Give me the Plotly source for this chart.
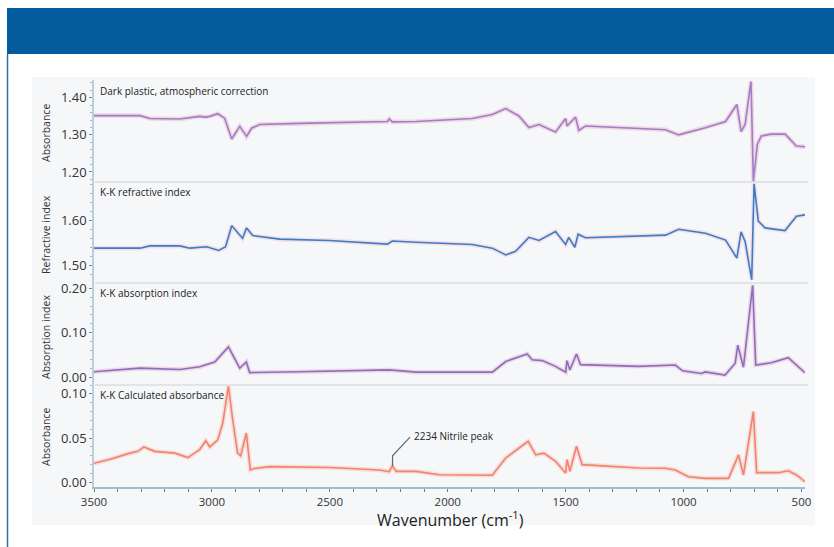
import plotly.graph_objects as go

# ---------------- data ----------------
wn_abs = [3500, 3305, 3263, 3136, 3052, 3026, 3009, 2975, 2946, 2916, 2882, 2853, 2832, 2798,
          2629, 2417, 2256, 2248, 2235, 2134, 2036, 1897, 1811, 1754, 1698, 1656, 1613, 1543,
          1500, 1494, 1458, 1444, 1416, 1190, 1076, 1021, 907, 822, 774, 756, 739, 714, 704,
          687, 670, 628, 569, 522, 484]
abs_vals = [1.352, 1.352, 1.344, 1.343, 1.350, 1.348, 1.350, 1.357, 1.345, 1.289, 1.323, 1.296,
            1.318, 1.328, 1.331, 1.333, 1.336, 1.343, 1.335, 1.336, 1.339, 1.344, 1.355, 1.371,
            1.351, 1.320, 1.328, 1.308, 1.344, 1.324, 1.348, 1.312, 1.324, 1.318, 1.314, 1.300,
            1.319, 1.336, 1.382, 1.309, 1.328, 1.444, 1.175, 1.275, 1.297, 1.302, 1.302, 1.270,
            1.268]

wn_ri = [3500, 3305, 3263, 3136, 3094, 3022, 2971, 2942, 2916, 2870, 2853, 2827, 2713, 2502,
         2256, 2235, 2134, 2036, 1897, 1811, 1754, 1712, 1656, 1613, 1543, 1500, 1487, 1461,
         1447, 1416, 1190, 1076, 1021, 907, 822, 774, 756, 739, 711, 701, 683, 655, 570, 521, 484]
ri_vals = [1.539, 1.539, 1.544, 1.544, 1.539, 1.542, 1.534, 1.542, 1.589, 1.561, 1.584, 1.567,
           1.559, 1.556, 1.548, 1.555, 1.552, 1.550, 1.547, 1.539, 1.524, 1.532, 1.563, 1.556,
           1.576, 1.547, 1.563, 1.541, 1.570, 1.562, 1.565, 1.568, 1.581, 1.572, 1.557, 1.517,
           1.575, 1.554, 1.469, 1.682, 1.599, 1.584, 1.578, 1.610, 1.613]

wn_ai = [3500, 3305, 3136, 3052, 3022, 2988, 2930, 2882, 2854, 2840, 2629, 2248, 2134, 1811,
         1754, 1663, 1642, 1599, 1543, 1500, 1494, 1482, 1454, 1437, 1190, 1035, 1004, 924,
         908, 824, 781, 770, 746, 707, 694, 628, 556, 528, 485]
ai_vals = [0.012, 0.020, 0.017, 0.023, 0.028, 0.034, 0.068, 0.020, 0.034, 0.010, 0.012, 0.016,
           0.011, 0.011, 0.035, 0.052, 0.039, 0.037, 0.024, 0.011, 0.037, 0.016, 0.052, 0.028,
           0.024, 0.027, 0.014, 0.008, 0.0115, 0.0045, 0.031, 0.072, 0.022, 0.207, 0.027, 0.032,
           0.0435, 0.031, 0.0097]

wn_ca = [3500, 3432, 3348, 3314, 3288, 3242, 3157, 3102, 3052, 3026, 3009, 2975, 2954, 2930,
         2912, 2891, 2878, 2854, 2837, 2819, 2756, 2502, 2290, 2248, 2235, 2218, 2134, 2036,
         1811, 1754, 1659, 1627, 1592, 1543, 1500, 1494, 1482, 1454, 1430, 1190, 1078, 1035,
         979, 908, 809, 767, 746, 704, 690, 598, 556, 521, 485]
ca_vals = [0.0216, 0.026, 0.033, 0.035, 0.040, 0.035, 0.033, 0.028, 0.037, 0.047, 0.040, 0.048,
           0.067, 0.1086, 0.071, 0.033, 0.030, 0.0557, 0.014, 0.0157, 0.0177, 0.0168, 0.014,
           0.012, 0.0185, 0.0124, 0.0124, 0.0086, 0.0079, 0.0275, 0.0464, 0.031, 0.033, 0.0238,
           0.0105, 0.0256, 0.0125, 0.0408, 0.020, 0.0162, 0.0159, 0.0139, 0.0063, 0.0045, 0.0045,
           0.031, 0.0083, 0.080, 0.0109, 0.0109, 0.0131, 0.0083, 0.0007]

panel_labels = ["Dark plastic, atmospheric correction", "K-K refractive index",
                "K-K absorption index", "K-K Calculated absorbance"]
y_titles = ["Absorbance", "Refractive index", "Absorption index", "Absorbance"]
x_tick_vals = [3500, 3000, 2500, 2000, 1500, 1000, 500]

nitrile_x = [2234, 2234, 2160]
nitrile_y = [0.0185, 0.030, 0.051]
nitrile_text = "2234 Nitrile peak"

# ---------------- figure ----------------
W, H = 834, 547
def px(x): return x / W
def py(y): return 1 - y / H

fig = go.Figure()

series = [
    (wn_abs, abs_vals, "#9d80c6", "rgba(232,150,185,0.35)"),
    (wn_ri, ri_vals, "#3c7cc6", "rgba(232,150,185,0.25)"),
    (wn_ai, ai_vals, "#8670c2", "rgba(232,150,185,0.35)"),
    (wn_ca, ca_vals, "#f2846c", "rgba(245,170,160,0.35)"),
]
for i, (xs, ys, col, halo) in enumerate(series):
    ax = "" if i == 0 else str(i + 1)
    fig.add_trace(go.Scatter(x=xs, y=ys, mode="lines", line=dict(color=halo, width=4.5),
                             xaxis="x" + ax, yaxis="y" + ax, hoverinfo="skip", showlegend=False))
    fig.add_trace(go.Scatter(x=xs, y=ys, mode="lines", line=dict(color=col, width=1.6),
                             xaxis="x" + ax, yaxis="y" + ax, showlegend=False))

# nitrile leader line
fig.add_trace(go.Scatter(x=nitrile_x, y=nitrile_y, mode="lines",
                         line=dict(color="#4f6f7a", width=1.2), xaxis="x4", yaxis="y4",
                         showlegend=False, hoverinfo="skip"))

xdom = [px(94), px(805)]
ydoms = [[py(182), py(80)], [py(283), py(182)], [py(385), py(283)], [py(487), py(385)]]
yranges = [[1.173, 1.448], [1.4616, 1.686], [-0.018, 0.212], [-0.0053, 0.110]]
ytick_vals = [[1.20, 1.30, 1.40], [1.50, 1.60], [0.00, 0.10, 0.20], [0.00, 0.05, 0.10]]
ytick_text = [["1.20", "1.30", "1.40"], ["1.50", "1.60"], ["0.00", "0.10", "0.20"],
              ["0.00", "0.05", "0.10"]]
minor_dt = [0.02, 0.02, 0.02, 0.01]

layout = dict(
    width=W, height=H, autosize=False, margin=dict(l=0, r=0, t=0, b=0, pad=0),
    paper_bgcolor="white", plot_bgcolor="rgba(0,0,0,0)",
    font=dict(family="Open Sans, sans-serif", color="#333333"),
    showlegend=False,
)
for i in range(4):
    k = "" if i == 0 else str(i + 1)
    last = i == 3
    layout["xaxis" + k] = dict(
        domain=xdom, range=[3500, 485], anchor="y" + k, automargin=False,
        showgrid=False, zeroline=False,
        showline=last, linecolor="#9fbfcc", linewidth=2,
        ticks="outside" if last else "", ticklen=3, tickcolor="#5f7f8c",
        tickvals=x_tick_vals if last else None, showticklabels=last,
        tickfont=dict(size=11.5, color="#333333"),
        minor=dict(ticks="outside", dtick=100, ticklen=3, tickcolor="#5f7f8c") if last else None,
    )
    if not last:
        layout["xaxis" + k]["matches"] = "x4"
    layout["yaxis" + k] = dict(
        domain=ydoms[i], range=yranges[i], anchor="x" + k, automargin=False,
        showgrid=False, zeroline=False,
        showline=True, linecolor="#bcd0dc", linewidth=1.5,
        ticks="outside", ticklen=3, tickcolor="#6f8c99",
        tickvals=ytick_vals[i], ticktext=ytick_text[i],
        tickfont=dict(size=13, color="#333333"),
        minor=dict(ticks="outside", dtick=minor_dt[i], ticklen=2, tickcolor="#9fb7c3"),
    )
fig.update_layout(**layout)

shapes = [
    # blue header
    dict(type="rect", xref="paper", yref="paper", x0=px(7), x1=1, y0=py(54), y1=py(8),
         fillcolor="#045c9f", line=dict(width=0), layer="below"),
    # left border line
    dict(type="line", xref="paper", yref="paper", x0=px(7.5), x1=px(7.5), y0=0, y1=py(54),
         line=dict(color="#2f6fae", width=1.5), layer="below"),
    # light panel
    dict(type="rect", xref="paper", yref="paper", x0=px(32), x1=px(815), y0=py(525), y1=py(77),
         fillcolor="#f6f7f9", line=dict(width=0), layer="below"),
]
for sep in [182, 283, 385]:
    shapes.append(dict(type="line", xref="paper", yref="paper", x0=px(95), x1=px(808),
                       y0=py(sep), y1=py(sep), line=dict(color="#e2e5e8", width=2), layer="below"))
fig.update_layout(shapes=shapes)

annotations = []
label_y = [91, 192, 293, 395]
for t, yy in zip(panel_labels, label_y):
    annotations.append(dict(text=t, xref="paper", yref="paper", x=px(98), y=py(yy),
                            xanchor="left", yanchor="middle", showarrow=False,
                            font=dict(size=10, color="#222222")))
title_y = [133, 235, 337, 437]
for t, yy in zip(y_titles, title_y):
    annotations.append(dict(text=t, xref="paper", yref="paper", x=px(46), y=py(yy),
                            xanchor="center", yanchor="middle", textangle=-90, showarrow=False,
                            font=dict(size=10.5, color="#333333")))
annotations.append(dict(text="Wavenumber (cm<sup>-1</sup>)", xref="paper", yref="paper",
                        x=px(450), y=py(519), xanchor="center", yanchor="middle",
                        showarrow=False, font=dict(size=16, color="#222222")))
annotations.append(dict(text=nitrile_text, xref="x4", yref="y4", x=nitrile_x[-1] - 8,
                        y=nitrile_y[-1] + 0.0015, xanchor="left", yanchor="middle",
                        showarrow=False, font=dict(size=10, color="#222222")))
fig.update_layout(annotations=annotations)

fig.write_html("out.html", config={"displayModeBar": False},
               post_script="document.body.style.margin='0';document.body.style.overflow='hidden';")
